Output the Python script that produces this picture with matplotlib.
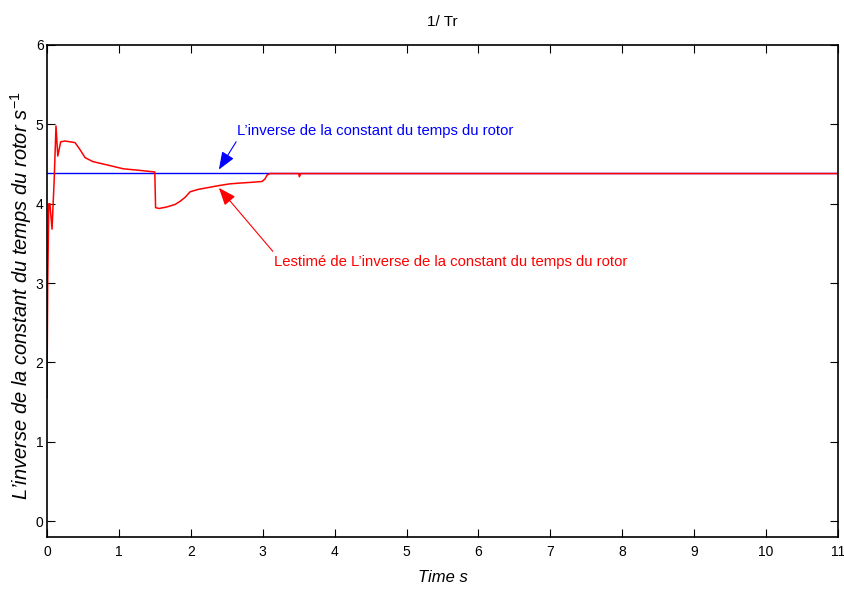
import matplotlib
matplotlib.use("Agg")
import matplotlib.pyplot as plt
import numpy as np

# ---- data ----
t_end = 11.0
tr_inv_true = 4.385

est_t = [0.0, 0.0, 0.01, 0.025, 0.04, 0.07, 0.10, 0.125, 0.15, 0.19, 0.25, 0.32, 0.39,
         0.46, 0.53, 0.64, 0.83, 1.06, 1.29, 1.499, 1.51, 1.56, 1.67, 1.78, 1.85, 1.92,
         1.99, 2.10, 2.22, 2.40, 2.54, 2.68, 2.85, 2.99, 3.03, 3.06, 3.10, 3.50, 3.51,
         3.53, 4.0, 6.0, 8.0, 11.0]
est_v = [1.55, 1.66, 3.0, 4.0, 4.0, 3.68, 4.3, 4.98, 4.60, 4.78, 4.79, 4.78, 4.77,
         4.68, 4.58, 4.53, 4.49, 4.44, 4.42, 4.40, 3.95, 3.94, 3.96, 3.99, 4.03, 4.08,
         4.15, 4.18, 4.20, 4.23, 4.25, 4.26, 4.27, 4.28, 4.31, 4.36, 4.38, 4.38, 4.34,
         4.38, 4.38, 4.38, 4.38, 4.38]

x_ticks = list(range(0, 12))
y_ticks = list(range(0, 7))

title = "1/ Tr"
xlabel = "Time s"
ylabel = r"L’inverse de la constant du temps du rotor $s^{-1}$"
label_true = "L’inverse de la constant du temps du rotor"
label_est = "Lestimé de L’inverse de la constant du temps du rotor"

plt.rcParams["font.family"] = ["Liberation Sans", "DejaVu Sans"]
plt.rcParams["mathtext.fontset"] = "custom"
plt.rcParams["mathtext.it"] = "Liberation Sans:italic"
plt.rcParams["mathtext.rm"] = "Liberation Sans"

fig = plt.figure(figsize=(8.44, 5.89), dpi=100)
ax = fig.add_axes([47 / 844, 1 - 537 / 589, (838 - 47) / 844, (537 - 45) / 589])

ax.plot([0, t_end], [tr_inv_true, tr_inv_true], color="#0000ff", lw=1.0)
ax.plot(est_t, est_v, color="#ff0000", lw=1.1)

ax.set_xlim(0, 11)
ax.set_ylim(-0.2, 6)
ax.set_xticks(x_ticks)
ax.set_yticks(y_ticks)
ax.tick_params(direction="in", length=6, width=0.8, top=True, right=True,
               labelsize=10)
ax.tick_params(axis="y", pad=2.5)
ax.tick_params(axis="x", pad=6)
for s in ax.spines.values():
    s.set_linewidth(1.2)

ax.set_title(title, fontsize=11, pad=14)
ax.set_xlabel(xlabel, fontsize=12, style="italic", labelpad=8)
ax.set_ylabel(ylabel, fontsize=14.5, style="italic")
ax.yaxis.set_label_coords(-0.0165, 0.49)

# annotations
ax.text(2.64, 4.92, label_true, color="#0000ff", fontsize=10.7, va="center", ha="left")
ax.annotate("", xy=(2.39, 4.43), xytext=(2.63, 4.78),
            arrowprops=dict(arrowstyle="-|>,head_length=0.9,head_width=0.35",
                            color="#0000ff", lw=0.8, shrinkA=0, shrinkB=0,
                            mutation_scale=12))
ax.text(3.15, 3.27, label_est, color="#ff0000", fontsize=10.7, va="center", ha="left")
ax.annotate("", xy=(2.39, 4.2), xytext=(3.14, 3.40),
            arrowprops=dict(arrowstyle="-|>,head_length=0.9,head_width=0.35",
                            color="#ff0000", lw=0.8, shrinkA=0, shrinkB=0,
                            mutation_scale=12))

fig.savefig("out.png", dpi=100)
